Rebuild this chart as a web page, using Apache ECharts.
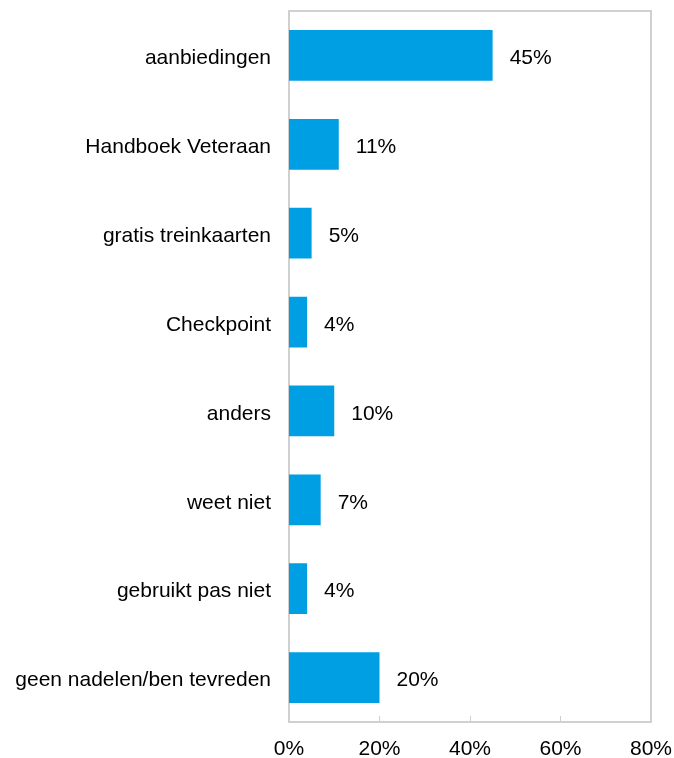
<!DOCTYPE html>
<html>
<head>
<meta charset="utf-8">
<script src="https://cdn.jsdelivr.net/npm/echarts@6/dist/echarts.min.js"></script>
<style>
  html, body { margin: 0; padding: 0; background: #fff; }
  #chart { width: 674px; height: 758px; }
</style>
</head>
<body>
<div id="chart"></div>
<script>
// Answer categories, top to bottom
const categories = [
  'aanbiedingen',
  'Handboek Veteraan',
  'gratis treinkaarten',
  'Checkpoint',
  'anders',
  'weet niet',
  'gebruikt pas niet',
  'geen nadelen/ben tevreden'
];
// Share of respondents, percent
const shares = [45, 11, 5, 4, 10, 7, 4, 20];
// Value axis ticks
const axisMin = 0;
const axisMax = 80;
const axisStep = 20;

const chart = echarts.init(document.getElementById('chart'));
const font = "'Liberation Sans', Arial, sans-serif";
const fontSize = 21;

// text sits a little below the band centre
const lowered = {
  t: { fontFamily: font, fontSize: fontSize, color: '#000', lineHeight: 27, verticalAlign: 'bottom' }
};

chart.setOption({
  animation: false,
  grid: {
    left: 289, right: 23, top: 11, bottom: 36,
    show: true,
    borderColor: '#d0d0d0',
    borderWidth: 2,
    containLabel: false,
    outerBoundsMode: 'none'
  },
  xAxis: {
    type: 'value',
    min: axisMin, max: axisMax, interval: axisStep,
    splitLine: { show: false },
    axisLine: { show: true, lineStyle: { color: '#d0d0d0', width: 2 } },
    axisTick: { show: true, inside: true, length: 6, lineStyle: { color: '#d0d0d0', width: 1 } },
    axisLabel: {
      formatter: v => v + '%',
      color: '#000', fontFamily: font, fontSize: fontSize, margin: 17
    }
  },
  yAxis: {
    type: 'category',
    data: categories,
    inverse: true,
    axisLine: { show: true, lineStyle: { color: '#d0d0d0', width: 2 } },
    axisTick: { show: false },
    axisLabel: {
      color: '#000', fontFamily: font, fontSize: fontSize, margin: 18,
      formatter: v => '{t|' + v + '}',
      rich: lowered
    }
  },
  series: [{
    type: 'bar',
    data: shares,
    barWidth: '57%',
    itemStyle: { color: '#009FE3' },
    label: {
      show: true,
      position: 'right',
      distance: 17,
      offset: [0, 3],
      formatter: p => p.value + '%',
      color: '#000', fontFamily: font, fontSize: fontSize
    }
  }]
});
</script>
</body>
</html>
